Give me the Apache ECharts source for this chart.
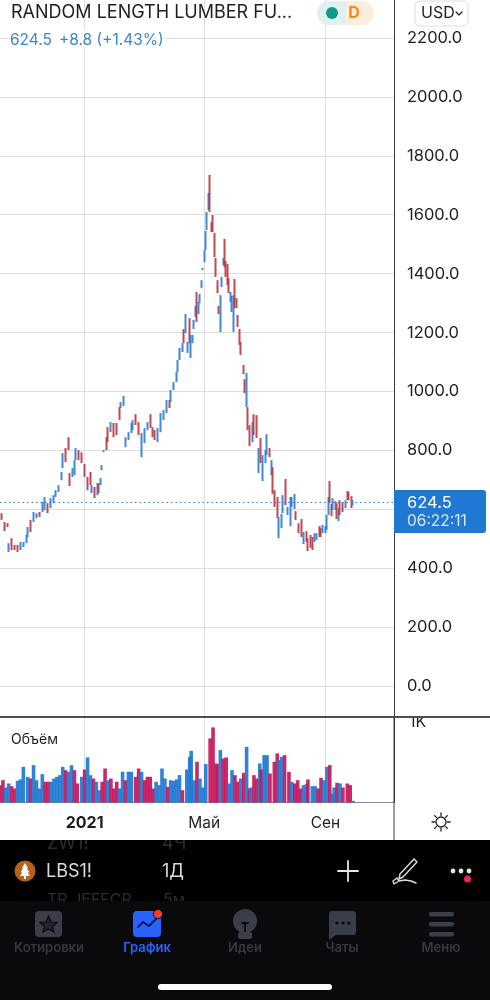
<!DOCTYPE html>
<html><head><meta charset="utf-8">
<style>html,body{margin:0;padding:0;background:#fff}#c{width:490px;height:1000px}</style>
<script src="https://cdn.jsdelivr.net/npm/echarts@6/dist/echarts.min.js"></script>
</head><body><div id="c"></div>
<script>
const SESSION_COUNT = 271;
const tickSessions = [58, 140, 223];
const tickLabels = ['2021', 'Май', 'Сен'];
const priceTicks = [0,200,400,800,1000,1200,1400,1600,1800,2000,2200];
const priceGrid = [0,200,400,600,800,1000,1200,1400,1600,1800,2000,2200];
const lastPrice = 624.5;

const session = [1,3,5,6,8,10,12,14,16,18,19,21,23,25,27,29,31,33,35,37,38,40,42,43,45,47,48,50,51,52,54,56,58,60,62,63,65,67,68,69,70,71,73,74,76,78,80,82,83,85,86,88,90,91,93,95,97,99,101,103,105,106,108,110,112,114,116,117,119,121,122,123,125,126,127,129,130,131,132,133,134,135,136,137,138,139,140,141,142,143,144,145,146,147,148,149,150,151,152,153,154,155,156,157,158,159,160,161,162,163,164,165,167,168,169,170,171,173,174,176,177,179,180,182,183,185,186,187,188,190,191,193,194,196,197,199,200,202,203,205,207,208,210,211,213,214,216,217,219,220,221,223,224,225,226,227,228,230,231,232,233,235,237,238,239,241,242];
const high = [587,557,553,485,502,479,479,489,489,513,540,564,591,587,591,625,642,621,638,648,665,682,727,791,808,845,723,740,767,808,801,794,754,710,727,682,676,689,689,706,750,801,845,879,896,893,893,947,964,985,845,862,893,903,923,896,859,876,896,923,879,869,876,927,937,971,971,1005,1032,1066,1107,1148,1164,1212,1263,1168,1249,1192,1192,1243,1290,1338,1304,1331,1378,1419,1480,1545,1609,1674,1735,1575,1599,1538,1453,1378,1290,1327,1389,1453,1518,1443,1433,1385,1338,1324,1327,1382,1317,1260,1212,1168,1090,1042,1063,947,886,896,923,920,808,842,784,801,855,808,767,743,665,642,574,584,648,703,608,642,642,652,594,553,567,523,526,502,513,506,519,519,543,536,547,543,581,642,696,618,638,628,621,604,631,625,631,662,659,645,631];
const low = [564,526,540,455,462,462,455,462,472,485,506,523,557,570,574,591,598,587,604,621,642,659,699,740,760,801,679,710,716,767,767,757,710,665,682,655,638,648,655,682,733,794,801,828,862,845,852,903,944,951,811,835,859,869,886,852,777,825,869,876,845,835,828,862,903,927,944,964,1005,1032,1066,1107,1134,1164,1198,1131,1164,1114,1164,1212,1253,1236,1263,1300,1351,1412,1439,1480,1548,1616,1609,1541,1541,1456,1389,1334,1263,1202,1355,1429,1422,1389,1361,1334,1304,1270,1202,1283,1283,1219,1158,1124,1059,995,947,869,815,828,852,842,723,757,696,757,784,777,716,652,608,570,502,536,587,614,581,543,608,601,564,519,506,482,489,458,469,462,489,496,506,506,519,519,530,581,621,577,598,598,567,560,581,591,604,631,631,604,614];
const open = [582,552,548,460,497,474,474,467,477,490,511,559,562,575,586,596,603,616,609,626,647,664,704,745,803,840,718,715,721,772,796,789,749,705,722,660,671,653,684,687,738,796,840,874,867,888,888,942,949,956,816,840,864,874,918,891,782,830,874,918,874,864,833,867,908,932,966,969,1010,1037,1071,1112,1139,1207,1203,1136,1244,1119,1169,1217,1258,1333,1268,1305,1356,1414,1444,1485,1553,1621,1730,1570,1594,1533,1448,1373,1285,1207,1360,1434,1513,1438,1428,1380,1309,1275,1207,1377,1312,1255,1207,1163,1085,1037,952,942,881,833,918,915,728,837,701,762,789,803,721,738,660,637,507,541,592,698,586,548,613,606,589,548,562,487,521,497,508,501,494,501,538,531,524,524,535,586,691,613,603,603,616,565,626,620,609,657,654,640,619];
const close = [569,531,545,480,467,467,460,484,484,508,535,528,586,582,579,620,637,592,633,643,660,677,722,786,765,806,684,735,762,803,772,762,715,670,687,677,643,684,660,701,745,799,806,833,891,850,857,908,959,980,840,857,888,898,891,857,854,871,891,881,850,840,871,922,932,966,949,1000,1027,1061,1102,1143,1159,1169,1258,1163,1169,1187,1187,1238,1285,1241,1299,1326,1373,1417,1475,1540,1604,1669,1614,1546,1546,1461,1394,1339,1268,1322,1384,1448,1427,1394,1366,1339,1333,1319,1322,1288,1288,1224,1163,1129,1064,1000,1058,874,820,891,857,847,803,762,779,796,850,782,762,657,613,575,569,579,643,619,603,637,637,647,569,524,511,518,494,463,474,467,514,514,511,511,542,538,576,637,626,582,633,623,572,599,586,596,626,636,636,609,626];

const volSession = [0,2,4,6,8,10,12,14,16,19,21,23,25,27,29,31,33,35,37,39,41,43,45,47,49,51,53,56,58,60,62,64,66,68,70,72,74,76,78,80,82,84,86,88,90,93,95,97,99,101,103,105,107,109,111,113,115,117,119,121,123,125,128,130,131,133,135,137,139,141,144,146,148,149,151,153,155,157,159,161,163,165,167,169,171,172,174,176,178,179,181,183,185,188,190,191,193,195,198,200,202,204,206,208,210,211,214,216,218,220,222,224,226,228,229,231,233,235,238,240,242];
const volume = [217,279,188,238,204,175,271,288,446,321,300,467,279,175,354,259,259,259,300,321,342,446,404,384,467,404,238,321,413,563,342,300,259,154,259,425,279,300,175,259,175,384,279,384,384,321,425,384,279,321,321,175,259,217,425,300,196,279,271,288,342,154,413,571,646,279,509,300,188,480,801,938,488,480,655,550,563,238,404,342,259,300,371,696,175,188,342,300,488,413,592,592,363,509,613,530,571,592,384,259,238,279,175,217,229,288,204,204,175,309,279,446,467,113,188,246,238,188,238,217,21];
const volSide = ['m','m','b','b','m','m','b','b','b','b','m','b','b','b','b','m','m','b','b','b','b','b','m','b','b','m','m','b','m','b','b','m','b','b','m','m','b','m','m','m','b','b','m','b','b','m','m','b','m','m','m','m','b','b','b','b','m','b','b','b','b','m','b','b','b','b','m','b','b','b','m','m','m','m','b','m','m','b','b','m','m','b','m','b','m','b','m','m','b','m','b','b','m','m','m','b','b','m','m','b','m','m','m','b','b','m','b','b','m','m','b','b','m','b','b','m','b','m','m','m','b'];

const BLUE = '#2c7bd2', RED = '#b93640', VBLUE = '#1f78d1', VRED = '#c4175c';
const GRID = '#dedee2', INK = '#1c1f26';
const FONT = 'Inter, "Noto Sans", sans-serif';
const DIM = '#363944', ICON = '#3b3e4a', GHOST = '#2c2d33';

const categories = Array.from({length: SESSION_COUNT}, (_, i) => {
  const k = tickSessions.indexOf(i);
  return k >= 0 ? tickLabels[k] : 'd' + i;
});
const isTick = i => tickSessions.indexOf(i) >= 0;

const candleData = new Array(SESSION_COUNT).fill('-');
session.forEach((s, i) => { candleData[s] = [open[i], close[i], low[i], high[i]]; });

const volData = new Array(SESSION_COUNT).fill('-');
volSession.forEach((s, i) => {
  volData[s] = {value: volume[i], itemStyle: {color: volSide[i] === 'b' ? VBLUE : VRED}};
});

/* ---- screen furniture ---- */
const T = (text, x, y, fill, size, opt) => ({
  type: 'text', z: (opt && opt.z) || 20, silent: true,
  style: {text, x, y, fill, font: ((opt && opt.weight) || 400) + ' ' + size + 'px ' + FONT,
    textAlign: (opt && opt.align) || 'left', textVerticalAlign: 'middle'}
});
const R = (x, y, width, height, fill, r, z, extra) => ({
  type: 'rect', z: z || 15, silent: true, shape: {x, y, width, height, r: r || 0},
  style: Object.assign({fill}, extra || {})
});
const L = (x1, y1, x2, y2, stroke, lineWidth, z) => ({
  type: 'line', z: z || 16, silent: true, shape: {x1, y1, x2, y2}, style: {stroke, lineWidth: lineWidth || 1, lineCap: 'round'}
});
const C = (cx, cy, r, fill, z, extra) => ({
  type: 'circle', z: z || 18, silent: true, shape: {cx, cy, r}, style: Object.assign({fill}, extra || {})
});
const PG = (points, fill, z, extra) => ({type: 'polygon', z: z || 19, silent: true, shape: {points}, style: Object.assign({fill}, extra || {})});
const PL = (points, stroke, lineWidth, z) => ({type: 'polyline', z: z || 19, silent: true, shape: {points}, style: {fill: 'none', stroke, lineWidth, lineJoin: 'round', lineCap: 'round'}});

const sunRays = [[441,813,441,815.5],[441,828.5,441,831],[432,822,434.5,822],[447.5,822,450,822],
  [434.6,815.6,436.4,817.4],[445.6,826.6,447.4,828.4],[434.6,828.4,436.4,826.6],[445.6,817.4,447.4,815.6]];

const furniture = [
  /* header */
  R(10, 30, 156, 17, 'rgba(255,255,255,0.85)', 0, 14),
  T('RANDOM LENGTH LUMBER FU...', 11, 13, INK, 18),
  T('624.5', 10, 40, '#3c87c8', 15.5),
  T('+8.8 (+1.43%)', 59, 40, '#3c87c8', 15.5),
  R(317, 1, 29, 24, '#dff0ee', [12, 0, 0, 12], 15),
  R(346, 1, 28, 24, '#fdeedb', [0, 12, 12, 0], 15),
  C(332, 13, 6, '#0d9b8a'),
  T('D', 354, 13, '#f28a1c', 16, {weight: 700, align: 'center'}),
  R(415, 1, 53, 25, '#fff', 5, 15, {stroke: '#dcdde0', lineWidth: 1}),
  T('USD', 421, 13, INK, 16),
  PL([[456, 12], [459, 15], [462, 12]], INK, 1.2),

  /* last price tag */
  R(394, 490, 92, 43, '#1f78d1', [0, 3, 3, 0], 15),
  T('624.5', 407, 503, '#fff', 16.5),
  T('06:22:11', 407, 521, '#d5e6f7', 15.5),

  /* pane separators */
  R(396, 692, 94, 25, '#fff', 0, 14),
  L(0, 717, 490, 717, '#4d4e55', 2, 16),
  L(394, 717, 394, 840, '#3a3b42', 1, 24),
  T('Объём', 11, 740, INK, 14),

  /* sun */
  {type: 'circle', z: 18, silent: true, shape: {cx: 441, cy: 822, r: 5}, style: {fill: 'none', stroke: INK, lineWidth: 1.3}},
  ...sunRays.map(r => L(r[0], r[1], r[2], r[3], INK, 1.3, 18)),

  /* dark bars; the white strip clips the ghost row that scrolls under the chart */
  R(0, 840, 490, 160, '#000', 0, 15),
  T('ZW1!', 47, 844, GHOST, 18),
  T('4Ч', 162, 844, GHOST, 18),
  R(0, 832, 490, 8, '#fff', 0, 21),
  T('TR JEFFCR', 47, 900, GHOST, 16),
  T('5м', 163, 900, GHOST, 16),
  R(0, 901, 490, 99, '#0a0a0c', 0, 21),

  /* symbol row */
  C(25, 871, 10.5, '#b5621c', 22),
  PG([[25,863],[28,868],[26.8,868],[29.5,872.5],[27.5,872.5],[30,876],[26,876],[26,879],[24,879],[24,876],[20,876],[22.5,872.5],[20.5,872.5],[23.2,868],[22,868]], '#fff', 23),
  T('LBS1!', 46, 872, '#dcdcde', 18, {z: 22}),
  T('1Д', 162, 872, '#dcdcde', 18, {z: 22}),
  L(338, 871, 358, 871, '#e6e6e6', 1.8, 22),
  L(348, 861, 348, 881, '#e6e6e6', 1.8, 22),
  PL([[414, 859], [417, 862], [403, 877], [399, 879], [400, 874], [414, 859]], '#dcdcde', 1.4, 22),
  PL([[399, 881], [394, 884], [393, 881], [397, 878], [399, 881], [405, 880], [411, 881], [416, 883]], '#dcdcde', 1.4, 22),
  C(453, 871, 2.4, '#e6e6e6', 22), C(461, 871, 2.4, '#e6e6e6', 22), C(469, 871, 2.4, '#e6e6e6', 22),
  C(467.5, 879, 3.5, '#f0244f', 22),

  /* tab bar */
  R(35, 911, 27, 26, ICON, 4, 22),
  PG([[48.5,916],[51,922],[57,922.5],[52.5,926.5],[54,932],[48.5,929],[43,932],[44.5,926.5],[40,922.5],[46,922]], '#23252e', 23, {stroke: '#0a0a0c', lineWidth: 1.2}),
  R(133, 911, 28, 26, '#2962ff', 4, 22),
  PL([[138, 927], [143, 922], [149, 926], [156, 919]], '#0a1440', 1.8, 23),
  C(158, 914, 4.6, '#f2402e', 24, {stroke: '#0a0a0c', lineWidth: 1}),
  C(245, 921, 12, ICON, 22),
  R(238, 932, 14, 7, ICON, 2, 22),
  L(242, 923, 248, 923, '#0a0a0c', 1.8, 23),
  L(245, 923, 245, 931, '#0a0a0c', 1.8, 23),
  R(329, 911, 27, 24, ICON, 3, 22),
  PG([[329, 930], [336, 935], [329, 940]], ICON, 22),
  C(337, 923, 1.6, '#0a0a0c', 23), C(343, 923, 1.6, '#0a0a0c', 23), C(349, 923, 1.6, '#0a0a0c', 23),
  R(429, 912, 25, 4.5, ICON, 2, 22), R(429, 922, 25, 4.5, ICON, 2, 22), R(429, 932, 25, 4.5, ICON, 2, 22),
  T('Котировки', 49, 948, DIM, 13, {weight: 600, align: 'center', z: 22}),
  T('График', 147, 948, '#2962ff', 13, {weight: 600, align: 'center', z: 22}),
  T('Идеи', 245, 948, DIM, 13, {weight: 600, align: 'center', z: 22}),
  T('Чаты', 342, 948, DIM, 13, {weight: 600, align: 'center', z: 22}),
  T('Меню', 441, 948, DIM, 13, {weight: 600, align: 'center', z: 22}),
  R(158, 984, 174, 6, '#fff', 3, 22)
];

const chart = echarts.init(document.getElementById('c'), null, {renderer: 'canvas', width: 490, height: 1000});
chart.setOption({
  animation: false,
  backgroundColor: '#fff',
  grid: [
    {left: 0, top: 0, width: 394, height: 717},
    {left: 0, top: 718, width: 394, height: 84.5}
  ],
  xAxis: [
    {type: 'category', gridIndex: 0, data: categories, boundaryGap: false,
     axisLine: {show: false}, axisTick: {show: false}, axisLabel: {show: false},
     splitLine: {show: true, interval: i => isTick(i), lineStyle: {color: GRID, width: 1}}},
    {type: 'category', gridIndex: 1, data: categories, boundaryGap: false,
     axisLine: {show: true, lineStyle: {color: '#8a8b90', width: 1}}, axisTick: {show: false},
     axisLabel: {show: true, interval: i => isTick(i), margin: 13, fontFamily: FONT, fontSize: 15.5, color: INK,
       formatter: v => v === tickLabels[0] ? '{b|' + v + '}' : v,
       rich: {b: {fontWeight: 700, fontSize: 16, color: INK, fontFamily: FONT}}},
     splitLine: {show: true, interval: i => isTick(i), lineStyle: {color: GRID, width: 1}}}
  ],
  yAxis: [
    {type: 'value', gridIndex: 0, position: 'right', min: -105, max: 2329,
     axisLine: {show: true, lineStyle: {color: '#3a3b42', width: 1}}, axisTick: {show: false, customValues: priceGrid},
     axisLabel: {margin: 13, fontFamily: FONT, fontSize: 16.5, color: INK, padding: [4, 0, 0, 0], customValues: priceTicks, formatter: v => v.toFixed(1)},
     splitLine: {show: true, lineStyle: {color: GRID, width: 1}}},
    {type: 'value', gridIndex: 1, position: 'right', min: 0, max: 1056,
     axisLine: {show: true, lineStyle: {color: '#3a3b42', width: 1}}, axisTick: {show: false, customValues: [1000]},
     axisLabel: {margin: 15, fontFamily: FONT, fontSize: 16, color: INK, customValues: [1000], formatter: () => '1K'},
     splitLine: {show: false}}
  ],
  series: [
    {type: 'candlestick', xAxisIndex: 0, yAxisIndex: 0, data: candleData, barWidth: 1,
     itemStyle: {color: BLUE, color0: RED, borderColor: BLUE, borderColor0: RED, borderWidth: 2, opacity: 0.9},
     markLine: {silent: true, symbol: 'none', animation: false, label: {show: false},
       lineStyle: {color: '#2c7bd2', type: [1.5, 3], width: 1.2}, data: [{yAxis: lastPrice}]}},
    {type: 'bar', xAxisIndex: 1, yAxisIndex: 1, data: volData, barWidth: 3.6, itemStyle: {opacity: 0.92}}
  ],
  graphic: {elements: furniture}
});
</script></body></html>
